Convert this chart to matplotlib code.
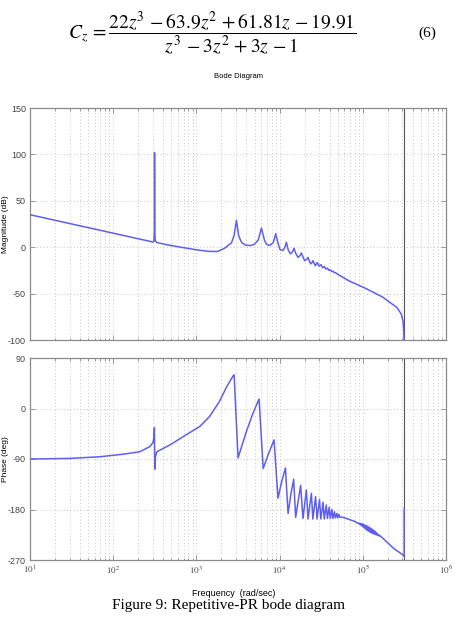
import matplotlib
matplotlib.use("Agg")
import matplotlib.pyplot as plt
from matplotlib.ticker import FixedLocator, LogLocator, NullFormatter, NullLocator

plt.rcParams.update({
    "font.family": ["Liberation Sans Narrow", "Liberation Sans", "DejaVu Sans"],
    "mathtext.fontset": "stix",
    "axes.linewidth": 0.9,
    "axes.unicode_minus": False,
})

# --- values (frequency in rad/s) ---
MAG_W = [10, 30, 100, 200, 300, 309, 313, 314, 315.5, 320, 335, 450, 700, 1000,
         1400, 1800, 2190, 2640, 2840, 3027, 3230, 3500, 3900, 4500, 5000, 5550,
         6050, 6600, 7000, 7600, 8400, 8980, 9600, 10100, 10900, 11500, 12070,
         12700, 13490, 14300, 14900, 15600, 16640, 17600, 18280, 19100, 20010,
         21300, 21930, 22700, 23620, 24600, 25160, 26900, 28300, 29900, 31400,
         33000, 34500, 36100, 37700, 39200, 40800, 42400, 44000, 45500, 47100,
         50200, 69000, 112000, 175000, 257000, 290000, 305000, 311000, 314159]
MAG_DB = [35, 25.5, 15.1, 9.1, 5.6, 6.5, 20, 102, 20, 7, 5.0, 2.5, -0.5, -2.8,
          -4.5, -4.6, -1.0, 4.7, 12.7, 29, 12, 5, 2.2, 1.8, 3.2, 8,
          20.7, 7, 3, 1.8, 5, 14.5, 4, -2.5, -3.6, -1, 5.4,
          -3, -7.2, -5, -1.1, -6.5, -11, -9, -6.2, -10.5, -14.5,
          -13, -11, -14.5, -18, -16.5, -14.5, -20, -16.5, -20.5, -18.8,
          -22.2, -20.8, -23.6, -22.6, -25, -24.3, -26.3, -25.9, -27.5, -27.4,
          -29.3, -36.5, -45, -54, -65, -72, -80, -90, -105]

PHASE_W = [10, 30, 69, 140, 209, 275, 300, 309, 313, 314.5, 316, 320, 335, 480,
           830, 1100, 1445, 1900, 2296, 2757, 2840, 3167, 3990, 4800, 5666,
           6350, 7300, 8570, 9570, 10600, 11750, 12640, 13700, 14760, 15600,
           17900, 19090, 20980, 21950, 24100, 25100, 27100, 28200, 30200, 31300,
           33300, 34400, 36400, 37500, 39500, 40600, 42600, 43700, 45700, 46800,
           48800, 49900, 51900, 53000, 58200, 79300, 100000, 130000, 162000,
           238000, 298000, 311000, 314159, 314159]
PHASE_DEG = [-90, -89, -86, -81, -77, -68, -61, -52, -34, -70, -108, -88, -77, -65,
             -43, -32, -14, 13, 38, 58, 60, -88, -41, -8, 17,
             -107, -82, -56, -160, -130, -106, -187, -152, -126, -194,
             -137, -196, -145, -197, -151, -197, -157, -197, -162, -197,
             -167, -197, -172, -196, -176, -196, -180, -196, -184, -195,
             -187, -195, -189, -194, -194, -201, -209, -219, -227,
             -250, -260, -262, -264, -178]

# fuzzy (aliased) stretch of the phase trace near 1e5 rad/s
BAND_W = [84000, 95000, 110000, 125000, 140000, 160000]
BAND_LO = [-203, -209, -217, -222, -225, -228]
BAND_HI = [-202, -203, -207, -212, -217, -226]

NYQUIST_W = 314159
MAG_TICKS = [-100, -50, 0, 50, 100, 150]
PHASE_TICKS = [-270, -180, -90, 0, 90]
X_TICKS = [1e1, 1e2, 1e3, 1e4, 1e5, 1e6]
X_TICK_LABELS = [r"$10^{1}$", r"$10^{2}$", r"$10^{3}$", r"$10^{4}$", r"$10^{5}$", r"$10^{6}$"]

W, H = 455, 617
LINE_COLOR = "#5f5fee"
FRAME_COLOR = "#8a8a8a"


def px(x, y):
    return x / W, 1 - y / H


def style_axes(ax, yticks, ylim, show_xlabels):
    ax.set_xscale("log")
    ax.set_xlim(1e1, 1e6)
    ax.set_ylim(*ylim)
    ax.yaxis.set_major_locator(FixedLocator(yticks))
    ax.yaxis.set_minor_locator(NullLocator())
    ax.xaxis.set_major_locator(FixedLocator(X_TICKS))
    ax.xaxis.set_minor_locator(LogLocator(base=10, subs=range(2, 10), numticks=20))
    ax.xaxis.set_minor_formatter(NullFormatter())
    if show_xlabels:
        ax.set_xticklabels(X_TICK_LABELS)
    else:
        ax.set_xticklabels([])
    for sp in ax.spines.values():
        sp.set_color(FRAME_COLOR)
    ax.tick_params(which="both", direction="in", top=True, right=True,
                   color=FRAME_COLOR, labelsize=6.5, labelcolor="#444444", width=0.6)
    ax.tick_params(which="major", length=3.5, pad=3)
    ax.tick_params(which="minor", length=1.8)
    grid = dict(color="#b4b4b4", linestyle=(0, (1, 3)), linewidth=0.6)
    ax.grid(True, which="major", axis="both", **grid)
    ax.grid(True, which="minor", axis="x", **grid)
    ax.set_axisbelow(True)
    ax.axvline(NYQUIST_W, color="#555555", linewidth=0.8, zorder=1)


def main():
    fig = plt.figure(figsize=(W / 100, H / 100), dpi=100)

    ax_mag = fig.add_axes([30 / W, 1 - 340 / H, 416 / W, 232 / H])
    ax_ph = fig.add_axes([30 / W, 1 - 560 / H, 416 / W, 202 / H])

    style_axes(ax_mag, MAG_TICKS, (-100, 150), show_xlabels=False)
    style_axes(ax_ph, PHASE_TICKS, (-270, 90), show_xlabels=True)

    ax_mag.plot(MAG_W, MAG_DB, color=LINE_COLOR, linewidth=1.1, zorder=3)
    ax_ph.plot(PHASE_W, PHASE_DEG, color=LINE_COLOR, linewidth=1.1, zorder=3)
    ax_ph.fill_between(BAND_W, BAND_LO, BAND_HI, color=LINE_COLOR, linewidth=0, zorder=3)

    # equation block above the plot
    fig.text(*px(212, 33),
             r"$C_z\,=\dfrac{22z^{3}\,-63.9z^{2}\,+61.81z\,-19.91}{z^{3}\,-3z^{2}\,+3z\,-1}$",
             ha="center", va="center", fontsize=14)
    fig.text(*px(427, 33), "(6)", ha="center", va="center", fontsize=11,
             family=["Liberation Serif", "DejaVu Serif"])

    fig.text(*px(238, 77), "Bode Diagram", ha="center", va="center", fontsize=5.5)
    fig.text(*px(6, 224), "Magnitude (dB)", ha="center", va="center", rotation=90, fontsize=6)
    fig.text(*px(6, 459), "Phase (deg)", ha="center", va="center", rotation=90, fontsize=6)
    fig.text(*px(234, 593), "Frequency  (rad/sec)", ha="center", va="center", fontsize=6.5)
    fig.text(*px(228, 606), "Figure 9: Repetitive-PR bode diagram", ha="center", va="center",
             fontsize=11, family=["Liberation Serif", "DejaVu Serif"])

    fig.savefig("out.png", dpi=100)
    plt.close(fig)
    return 0


if __name__ == "__main__":
    raise SystemExit(main())
